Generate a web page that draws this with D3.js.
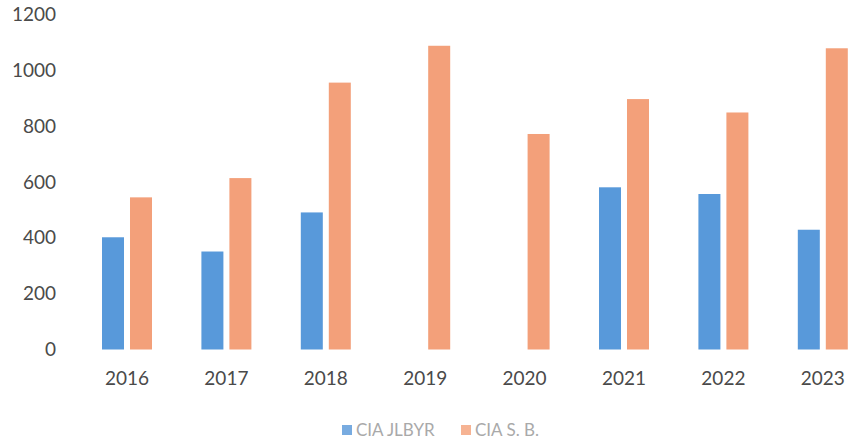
<!DOCTYPE html>
<html>
<head>
<meta charset="utf-8">
<script src="https://cdn.jsdelivr.net/npm/d3@7"></script>
<style>
  body { margin: 0; background: #fff; }
  text { font-family: Lato, "Open Sans", sans-serif; }
</style>
</head>
<body>
<div class="chart"></div>
<script>
// data
const years = ['2016', '2017', '2018', '2019', '2020', '2021', '2022', '2023'];
const seriesNames = ['CIA JLBYR', 'CIA S. B.'];
const jlbyr = [402, 351, 491, 0, 0, 581, 557, 429];
const sb = [545, 614, 956, 1088, 772, 897, 849, 1079];
const yTicks = [0, 200, 400, 600, 800, 1000, 1200];

const colors = ['#5899da', '#f3a07a'];
const legendColors = ['#78abe0', '#f6b393'];

const width = 849;
const height = 445;

const svg = d3.select('.chart')
  .append('svg')
    .attr('width', width)
    .attr('height', height);

// x: one band per year, inner band per series
const xScale = d3.scaleBand()
  .domain(years)
  .range([77.3, 77.3 + 99.4 * years.length])
  .paddingInner(0.497)
  .paddingOuter(0.2485);

const xInner = d3.scaleBand()
  .domain(seriesNames)
  .range([0, xScale.bandwidth()])
  .paddingInner(0.214);

const yScale = d3.scaleLinear()
  .domain([0, 1200])
  .range([349.5, 14.5]);

// y-axis labels
const yAxis = svg.append('g')
  .attr('transform', 'translate(56, 0)')
  .call(d3.axisLeft(yScale).tickValues(yTicks).tickFormat(d3.format('d')).tickSize(0).tickPadding(0));
yAxis.select('.domain').remove();
yAxis.selectAll('text')
  .style('font-size', '19px')
  .style('font-family', 'Lato, "Open Sans", sans-serif')
  .attr('fill', '#4a4a4a');

// x-axis labels
const xAxis = svg.append('g')
  .attr('transform', 'translate(0, 371)')
  .call(d3.axisBottom(xScale).tickSize(0).tickPadding(0));
xAxis.select('.domain').remove();
xAxis.selectAll('text')
  .style('font-size', '19px')
  .style('font-family', 'Lato, "Open Sans", sans-serif')
  .attr('fill', '#4a4a4a');

// bars
const rows = years.map((y, i) => ({ year: y, values: [jlbyr[i], sb[i]] }));

const groups = svg.selectAll('.group')
  .data(rows)
  .enter()
  .append('g')
    .attr('class', 'group')
    .attr('transform', d => `translate(${xScale(d.year)}, 0)`);

groups.selectAll('rect')
  .data(d => d.values.map((v, j) => ({ name: seriesNames[j], value: v, j })))
  .enter()
  .append('rect')
    .attr('x', d => xInner(d.name))
    .attr('y', d => yScale(d.value))
    .attr('width', xInner.bandwidth())
    .attr('height', d => yScale(0) - yScale(d.value))
    .style('fill', d => colors[d.j]);

// legend
const legendX = [342, 461];
const legend = svg.selectAll('.legend')
  .data(seriesNames)
  .enter()
  .append('g')
    .attr('class', 'legend')
    .attr('transform', (d, i) => `translate(${legendX[i]}, 430)`);

legend.append('rect')
  .attr('x', 0)
  .attr('y', -5)
  .attr('width', 10)
  .attr('height', 10)
  .style('fill', (d, i) => legendColors[i]);

legend.append('text')
  .attr('x', 14)
  .attr('y', 0)
  .attr('dy', '0.35em')
  .style('font-size', '17px')
  .attr('fill', '#a9a9a9')
  .text(d => d);
</script>
</body>
</html>
